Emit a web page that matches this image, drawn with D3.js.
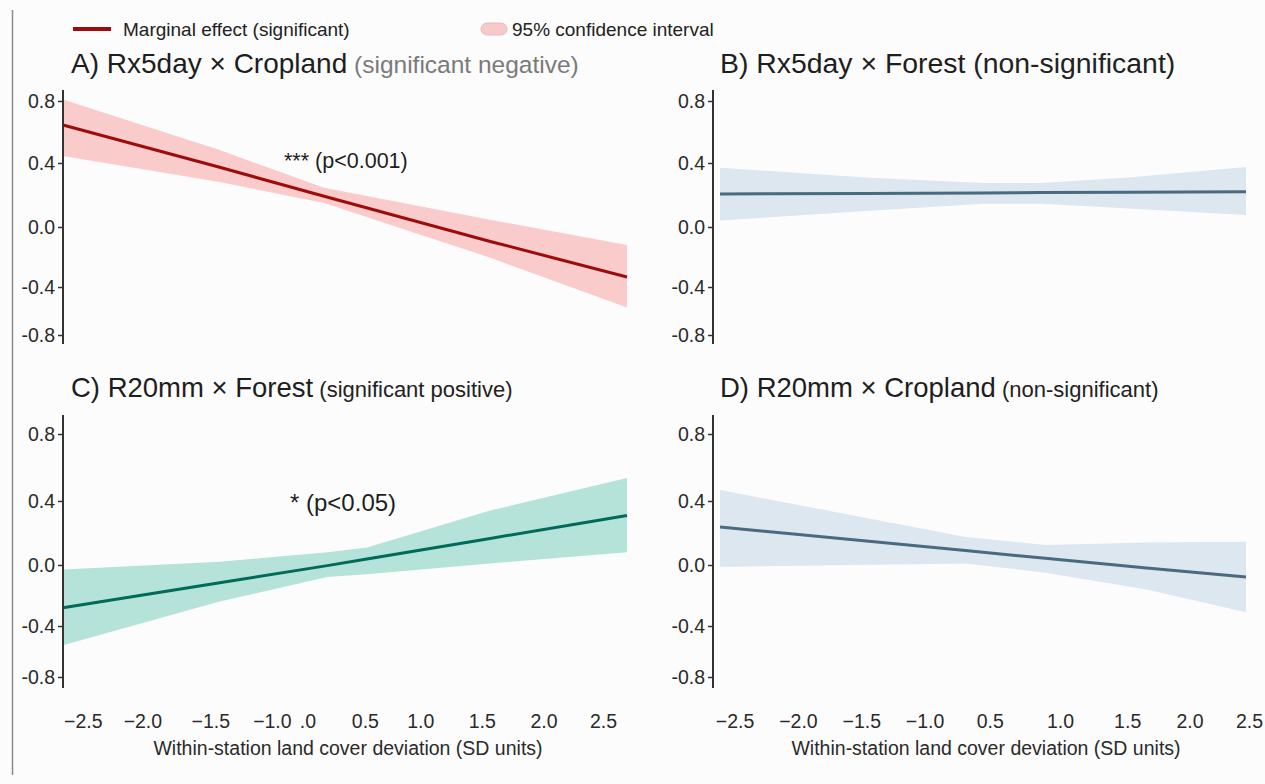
<!DOCTYPE html>
<html>
<head>
<meta charset="utf-8">
<script src="https://cdn.jsdelivr.net/npm/d3@7"></script>
<style>
  html, body { margin: 0; padding: 0; background: #fcfcfc; }
  svg { display: block; font-family: "Liberation Sans", Arial, sans-serif; }
</style>
</head>
<body>
<div id="chart"></div>
<script>
// ---- data ----
// x positions (SD units) where each ribbon/line was sampled
var xA = [-2.7, -1.2, -0.2, 1.4, 2.7];
var meanA = [0.645, 0.373, 0.192, -0.098, -0.333];
var lowerA = [0.445, 0.281, 0.15, -0.207, -0.57];
var upperA = [0.81, 0.484, 0.245, 0.044, -0.12];

var xB = [-2.7, -1.2, 0.0, 0.6, 1.5, 2.7];
var meanB = [0.206, 0.210, 0.213, 0.215, 0.217, 0.22];
var lowerB = [0.04, 0.10, 0.145, 0.145, 0.115, 0.075];
var upperB = [0.37, 0.31, 0.275, 0.275, 0.31, 0.375];

var xC = [-2.7, -1.2, -0.17, 0.21, 1.39, 2.7];
var meanC = [-0.28, -0.116, -0.004, 0.037, 0.166, 0.31];
var lowerC = [-0.55, -0.24, -0.079, -0.06, 0.01, 0.08];
var upperC = [-0.03, 0.02, 0.08, 0.11, 0.34, 0.537];

var xD = [-2.7, -0.18, 0.64, 1.68, 2.7];
var meanD = [0.2375, 0.09, 0.042, -0.019, -0.079];
var lowerD = [-0.013, 0.01, -0.05, -0.16, -0.31];
var upperD = [0.466, 0.175, 0.125, 0.14, 0.145];

// tick labels (as printed, at the places they sit on the axis)
var yTicks = [0.8, 0.4, 0.0, -0.4, -0.8];
var yTickLabels = ["0.8", "0.4", "0.0", "-0.4", "-0.8"];
var xTicksLeft = [-2.51, -1.94, -1.29, -0.70, -0.36, 0.19, 0.72, 1.31, 1.90, 2.47];
var xTickLabelsLeft = ["\u22122.5", "\u22122.0", "\u22121.5", "\u22121.0", ".0", "0.5", "1.0", "1.5", "2.0", "2.5"];
var xTicksRight = [-2.55, -1.90, -1.25, -0.60, 0.07, 0.79, 1.48, 2.12, 2.73];
var xTickLabelsRight = ["\u22122.5", "\u22122.0", "\u22121.5", "\u22121.0", "0.5", "1.0", "1.5", "2.0", "2.5"];

var xTitle = "Within-station land cover deviation (SD units)";

// ---- layout ----
var W = 1265, H = 784;
var svg = d3.select("#chart").append("svg")
    .attr("width", W)
    .attr("height", H);

svg.append("rect").attr("width", W).attr("height", H).attr("fill", "#fcfcfc");

// frame edge on the left
svg.append("line")
    .attr("x1", 12.5).attr("x2", 12.5)
    .attr("y1", 10).attr("y2", 775)
    .attr("stroke", "#8a8a8a").attr("stroke-width", 1.5);

var cols = {
    left: {axisX: 63, range: [63, 627], ticks: xTicksLeft, labels: xTickLabelsLeft, titleX: 71},
    right: {axisX: 713, range: [720, 1246], ticks: xTicksRight, labels: xTickLabelsRight, titleX: 720}
};
// the printed y axis is not evenly spaced, so the scale goes through each tick
var rows = {
    top: {yRange: [335, 287, 227, 163, 101], axis: [90, 344], titleY: 73},
    bottom: {yRange: [677, 626, 565, 501, 434], axis: [415, 688], titleY: 397}
};

var panels = [
    {col: "left", row: "top", x: xA, mean: meanA, lo: lowerA, hi: upperA,
     line: "#9e0b0b", band: "#f9cbcb", width: 3,
     title: "A) Rx5day \u00d7 Cropland", titleSize: 28,
     sub: " (significant negative)", subColor: "#7a7a7a", subSize: 24.5,
     note: "*** (p<0.001)", noteX: 284, noteY: 168, noteSize: 21.5},
    {col: "right", row: "top", x: xB, mean: meanB, lo: lowerB, hi: upperB,
     line: "#4a6a80", band: "#dce7ef", width: 3,
     title: "B) Rx5day \u00d7 Forest", titleSize: 28.4,
     sub: " (non-significant)", subColor: "#222", subSize: 28.4},
    {col: "left", row: "bottom", x: xC, mean: meanC, lo: lowerC, hi: upperC,
     line: "#006a5b", band: "#b6e3d9", width: 3,
     title: "C) R20mm \u00d7 Forest", titleSize: 27.5,
     sub: " (significant positive)", subColor: "#222", subSize: 22,
     note: "* (p<0.05)", noteX: 290, noteY: 511, noteSize: 24},
    {col: "right", row: "bottom", x: xD, mean: meanD, lo: lowerD, hi: upperD,
     line: "#4a6a80", band: "#dce7ef", width: 3,
     title: "D) R20mm \u00d7 Cropland", titleSize: 27.5,
     sub: " (non-significant)", subColor: "#222", subSize: 22}
];

panels.forEach(function (p) {
    var c = cols[p.col], r = rows[p.row];
    var x = d3.scaleLinear().domain([-2.7, 2.7]).range(c.range);
    var y = d3.scaleLinear().domain([-0.8, -0.4, 0, 0.4, 0.8]).range(r.yRange);

    var pts = p.x.map(function (v, i) {
        return {x: v, m: p.mean[i], lo: p.lo[i], hi: p.hi[i]};
    });

    var g = svg.append("g");

    // confidence ribbon
    g.append("path")
        .datum(pts)
        .attr("fill", p.band)
        .attr("d", d3.area()
            .x(function (d) { return x(d.x); })
            .y0(function (d) { return y(d.lo); })
            .y1(function (d) { return y(d.hi); }));

    // marginal effect line
    g.append("path")
        .datum(pts)
        .attr("fill", "none")
        .attr("stroke", p.line)
        .attr("stroke-width", p.width)
        .attr("d", d3.line()
            .x(function (d) { return x(d.x); })
            .y(function (d) { return y(d.m); }));

    // y axis
    var yAxis = d3.axisLeft(y)
        .tickValues(yTicks)
        .tickFormat(function (d, i) { return yTickLabels[i]; })
        .tickSize(5)
        .tickPadding(3);
    var ya = g.append("g")
        .attr("transform", "translate(" + c.axisX + ",0)")
        .call(yAxis);
    ya.select(".domain").remove();
    ya.selectAll(".tick line").attr("stroke", "#333").attr("stroke-width", 1.5);
    ya.selectAll(".tick text")
        .attr("fill", "#2a2a2a")
        .style("font-size", "19.5px")
        .style("font-family", "'Liberation Sans', Arial, sans-serif");
    g.append("line")
        .attr("x1", c.axisX).attr("x2", c.axisX)
        .attr("y1", r.axis[0]).attr("y2", r.axis[1])
        .attr("stroke", "#333").attr("stroke-width", 2);

    // panel title
    var t = g.append("text")
        .attr("x", c.titleX)
        .attr("y", r.titleY)
        .attr("fill", "#1e1e1e")
        .style("font-size", p.titleSize + "px")
        .text(p.title);
    t.append("tspan")
        .attr("fill", p.subColor)
        .style("font-size", p.subSize + "px")
        .text(p.sub);

    if (p.note) {
        g.append("text")
            .attr("x", p.noteX)
            .attr("y", p.noteY)
            .attr("fill", "#1e1e1e")
            .style("font-size", p.noteSize + "px")
            .text(p.note);
    }
});

// x tick labels and axis titles, only under the bottom row
["left", "right"].forEach(function (k) {
    var c = cols[k];
    var x = d3.scaleLinear().domain([-2.7, 2.7]).range(c.range);
    var xAxis = d3.axisBottom(x)
        .tickValues(c.ticks)
        .tickFormat(function (d, i) { return c.labels[i]; })
        .tickSize(0)
        .tickPadding(0);
    var xa = svg.append("g")
        .attr("transform", "translate(0,714)")
        .call(xAxis);
    xa.select(".domain").remove();
    xa.selectAll(".tick text")
        .attr("fill", "#2a2a2a")
        .style("font-size", "19.5px")
        .style("font-family", "'Liberation Sans', Arial, sans-serif");

    svg.append("text")
        .attr("x", (c.range[0] + c.range[1]) / 2 + 3)
        .attr("y", 755)
        .attr("text-anchor", "middle")
        .attr("fill", "#2a2a2a")
        .style("font-size", "19.5px")
        .text(xTitle);
});

// legend
var leg = svg.append("g");
leg.append("line")
    .attr("x1", 73).attr("x2", 111)
    .attr("y1", 29).attr("y2", 29)
    .attr("stroke", "#9e0b0b").attr("stroke-width", 4);
leg.append("text")
    .attr("x", 123).attr("y", 36)
    .attr("fill", "#222")
    .style("font-size", "19px")
    .text("Marginal effect (significant)");
leg.append("rect")
    .attr("x", 481).attr("y", 23)
    .attr("width", 26).attr("height", 12)
    .attr("rx", 6)
    .attr("fill", "#f6c9cb")
    .attr("stroke", "#eeb8bb");
leg.append("text")
    .attr("x", 512).attr("y", 36)
    .attr("fill", "#222")
    .style("font-size", "19px")
    .text("95% confidence interval");
</script>
</body>
</html>
